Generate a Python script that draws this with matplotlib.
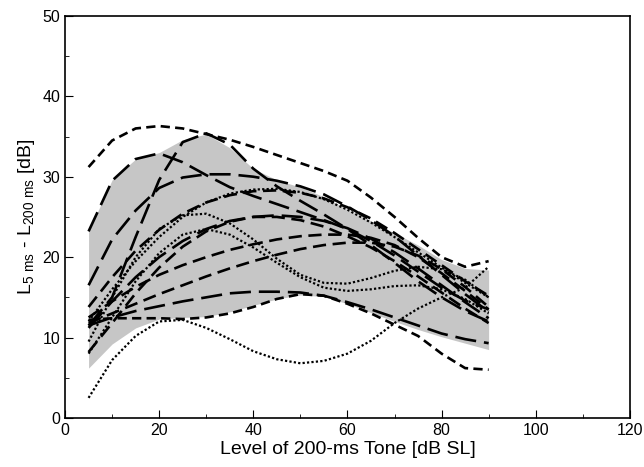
import matplotlib
matplotlib.use('Agg')
import matplotlib.pyplot as plt
import matplotlib.ticker as ticker

plt.rcParams['font.family'] = ['Liberation Sans', 'DejaVu Sans']
plt.rcParams['mathtext.default'] = 'regular'

# levels of the 200-ms tone [dB SL]
levels = [5, 10, 15, 20, 25, 30, 35, 40, 45, 50, 55, 60, 65, 70, 75, 80, 85, 90]

# shaded range across listeners
band_upper = [23.2, 29.6, 32.2, 33.0, 34.6, 35.3, 33.6, 31.0, 29.6, 28.7, 27.5, 25.9, 24.5, 23.0, 21.5, 19.7, 18.6, 18.4]
band_lower = [6.2, 9.2, 11.2, 12.3, 12.5, 12.6, 13.2, 14.0, 14.8, 15.3, 15.1, 14.2, 13.1, 12.0, 11.0, 10.1, 9.3, 8.5]

# individual listeners' curves
s_top = [31.2, 34.5, 36.0, 36.3, 36.0, 35.3, 34.6, 33.7, 32.7, 31.7, 30.7, 29.5, 27.4, 25.0, 22.4, 20.0, 18.8, 19.5]
s_l1 = [23.2, 29.5, 32.2, 32.9, 31.8, 30.2, 28.7, 27.6, 26.6, 25.6, 24.6, 23.5, 22.0, 20.2, 18.2, 16.2, 14.6, 13.5]
s_l2 = [16.5, 22.2, 25.8, 28.6, 29.9, 30.3, 30.3, 30.0, 29.5, 28.8, 27.8, 26.3, 24.6, 22.6, 20.2, 17.8, 15.4, 13.2]
s_l3 = [11.5, 15.0, 22.5, 29.6, 34.3, 35.4, 34.0, 31.0, 28.8, 27.0, 25.3, 23.5, 21.5, 19.3, 17.0, 15.0, 13.3, 12.0]
s_c5 = [13.8, 17.5, 20.8, 23.4, 25.4, 26.8, 27.7, 28.2, 28.3, 28.0, 27.3, 26.2, 24.8, 23.0, 21.0, 19.0, 17.0, 15.2]
s_c7 = [12.5, 14.5, 16.3, 17.8, 19.0, 20.0, 20.9, 21.6, 22.2, 22.6, 22.8, 22.8, 22.4, 21.5, 20.0, 18.0, 15.8, 13.5]
s_c8 = [11.8, 13.0, 14.2, 15.4, 16.5, 17.6, 18.6, 19.5, 20.3, 21.0, 21.5, 21.8, 21.8, 21.3, 20.2, 18.5, 16.3, 13.8]
s_c9 = [11.2, 14.5, 17.5, 20.0, 22.0, 23.5, 24.5, 25.0, 25.2, 25.0, 24.5, 23.6, 22.3, 20.6, 18.6, 16.5, 14.4, 12.4]
s_c10 = [8.2, 11.8, 15.5, 18.7, 21.3, 23.2, 24.4, 25.0, 25.0, 24.6, 23.8, 22.6, 21.2, 19.5, 17.6, 15.6, 13.6, 11.8]
s_b1 = [12.2, 12.4, 12.4, 12.4, 12.3, 12.5, 13.0, 13.8, 14.8, 15.4, 15.2, 14.2, 13.0, 11.6, 10.2, 8.0, 6.2, 6.0]
s_b2 = [11.5, 12.5, 13.3, 13.9, 14.5, 15.0, 15.5, 15.7, 15.7, 15.6, 15.2, 14.4, 13.5, 12.5, 11.5, 10.5, 9.8, 9.3]
s_d1 = [2.5, 7.2, 10.2, 12.0, 12.2, 11.2, 9.8, 8.3, 7.3, 6.8, 7.1, 8.0, 9.6, 11.8, 13.6, 15.0, 16.2, 18.8]
s_d2 = [9.5, 15.0, 20.0, 23.5, 25.2, 25.4, 24.2, 22.2, 19.8, 17.8, 16.8, 16.7, 17.4, 18.3, 18.8, 18.5, 17.2, 15.0]
s_d3 = [8.0, 12.5, 17.0, 20.5, 22.8, 23.5, 22.8, 21.2, 19.3, 17.5, 16.2, 15.8, 16.0, 16.4, 16.5, 16.0, 14.8, 13.0]
s_d4 = [12.0, 16.0, 19.5, 22.5, 25.0, 26.8, 27.9, 28.4, 28.5, 28.1, 27.2, 25.9, 24.3, 22.5, 20.6, 18.7, 16.8, 15.0]

short = (3.5, 2)
medium = (5, 2.5)
long_ = (8, 3)
dot = (1, 1)

curves = [
    (s_top, short, 1.9), (s_l1, long_, 1.9), (s_l2, long_, 1.9), (s_l3, long_, 1.9),
    (s_c5, medium, 1.9), (s_c7, medium, 1.9), (s_c8, medium, 1.9), (s_c9, long_, 1.9),
    (s_c10, medium, 1.9), (s_b1, short, 1.9), (s_b2, long_, 1.9),
    (s_d1, dot, 1.6), (s_d2, dot, 1.6), (s_d3, dot, 1.6), (s_d4, dot, 1.6),
]

fig = plt.figure(figsize=(6.44, 4.67), dpi=100)
ax = fig.add_axes([0.101, 0.105, 0.877, 0.861])

# stippled grey range
ax.fill_between(levels, band_lower, band_upper, color='#c6c6c6', linewidth=0)

for vals, dashes, lw in curves:
    ax.plot(levels, vals, color='black', linewidth=lw, dashes=dashes)

ax.set_xlim(0, 120)
ax.set_ylim(0, 50)
ax.xaxis.set_major_locator(ticker.MultipleLocator(20))
ax.xaxis.set_minor_locator(ticker.MultipleLocator(10))
ax.yaxis.set_major_locator(ticker.MultipleLocator(10))
ax.yaxis.set_minor_locator(ticker.MultipleLocator(5))
ax.tick_params(which='both', direction='in', top=False, right=False, labelsize=11.5)
ax.tick_params(which='major', length=6)
ax.tick_params(which='minor', length=3)
for sp in ax.spines.values():
    sp.set_linewidth(1.2)

ax.set_xlabel('Level of 200-ms Tone [dB SL]', fontsize=14, labelpad=2)
ax.set_ylabel(r'L$_{5\ ms}$ - L$_{200\ ms}$ [dB]', fontsize=14, labelpad=4)

fig.savefig('out.png', dpi=100)
